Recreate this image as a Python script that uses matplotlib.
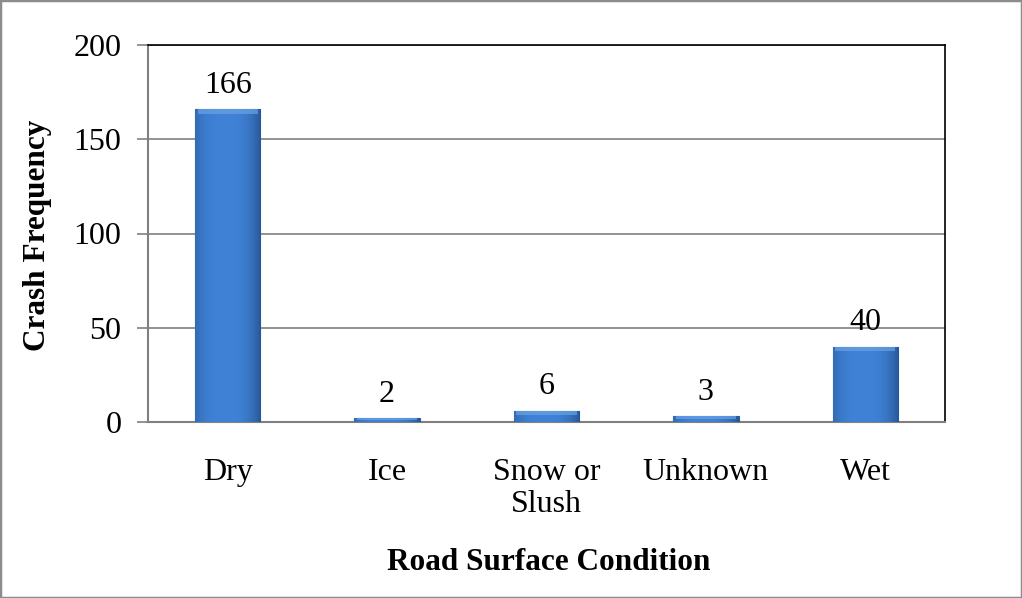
import matplotlib
matplotlib.use("Agg")
import matplotlib.pyplot as plt
import numpy as np
from matplotlib.patches import Rectangle

categories = ["Dry", "Ice", "Snow or\nSlush", "Unknown", "Wet"]
values = [166, 2, 6, 3, 40]
yticks = [0, 50, 100, 150, 200]

plt.rcParams['font.family'] = ['Liberation Serif', 'DejaVu Serif']

fig = plt.figure(figsize=(10.22, 5.98), dpi=100)
ax = fig.add_axes([148/1022, 1-422/598, (945-148)/1022, (422-45)/598])

x = np.arange(len(categories))
bars = ax.bar(x, values, width=0.41, color="#3C7CD0", edgecolor="#2F5E98",
              linewidth=0.8, zorder=3)

# horizontal shading gradient on bars
n = 64
t = np.linspace(0, 1, n)
shade = 1 - (np.abs(t - 0.45) * 2) ** 3
cols = np.zeros((1, n, 3))
dark = np.array([0x2E, 0x62, 0xA8]) / 255
light = np.array([0x40, 0x82, 0xD6]) / 255
for i, s in enumerate(shade):
    cols[0, i] = dark + (light - dark) * s
for b in bars:
    bx, by = b.get_x(), b.get_y()
    w, h = b.get_width(), b.get_height()
    im = ax.imshow(cols, extent=[bx, bx + w, by, by + h], aspect='auto',
                   zorder=3.5, interpolation='bicubic')
    im.set_clip_path(b)
    hh = min(h * 0.5, 2.5)
    ax.add_patch(Rectangle((bx + w * 0.04, by + h - hh), w * 0.92, hh,
                           facecolor="#6AA2E6", edgecolor='none', alpha=0.7,
                           zorder=3.6))

for xi, v in zip(x, values):
    ax.text(xi, v + 5, str(v), ha='center', va='bottom', fontsize=23, zorder=5)

ax.set_ylim(0, 200)
ax.set_xlim(-0.5, len(categories) - 0.5)
ax.set_yticks(yticks)
ax.set_yticklabels([str(t) for t in yticks], fontsize=23)
ax.set_xticks(x)
ax.set_xticklabels(categories, fontsize=23, linespacing=1.15)
ax.tick_params(axis='x', length=0, pad=26)
ax.tick_params(axis='y', length=8, width=1.2, color='#808080', pad=11)
ax.yaxis.grid(True, color='#808080', linewidth=1.2, zorder=0)
ax.set_axisbelow(True)

ax.spines['left'].set_color('#808080')
ax.spines['bottom'].set_color('#808080')
ax.spines['left'].set_linewidth(1.5)
ax.spines['bottom'].set_linewidth(1.5)
ax.spines['top'].set_color('black')
ax.spines['right'].set_color('black')
ax.spines['top'].set_linewidth(1.2)
ax.spines['right'].set_linewidth(1.2)

ax.set_ylabel("Crash Frequency", fontsize=22.5, fontweight='bold')
ax.yaxis.set_label_coords(38/1022, 1-235/598, transform=fig.transFigure)
ax.yaxis.label.set_verticalalignment('center')
fig.text(549/1022, 1-562/598, "Road Surface Condition", fontsize=22.5,
         fontweight='bold', ha='center', va='center')

fig.patches.append(Rectangle((0, 0), 1, 1, transform=fig.transFigure,
                             fill=False, edgecolor='#8C8C8C', linewidth=2.5))

fig.savefig("out.png", dpi=100)
